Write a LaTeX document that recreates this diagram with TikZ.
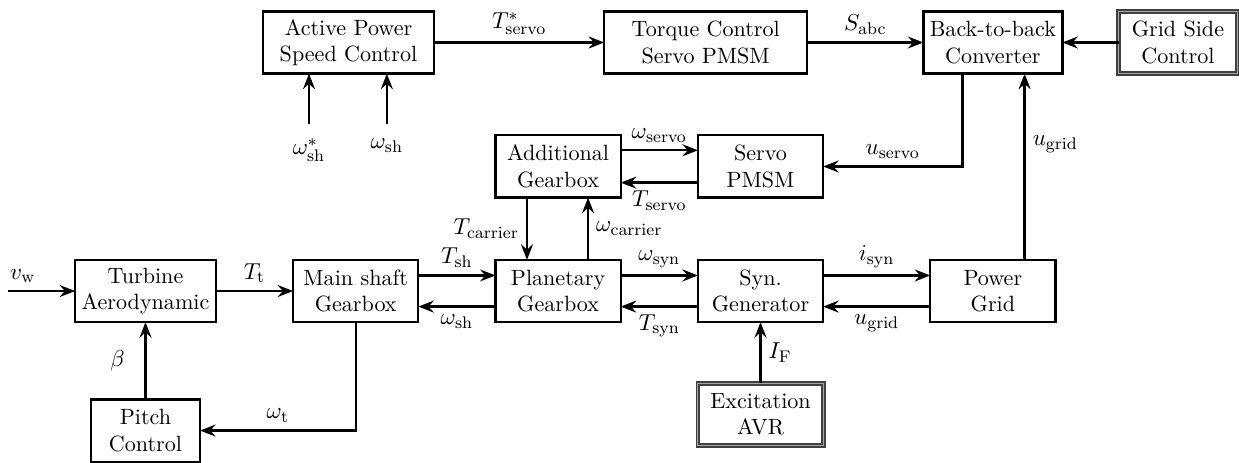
\documentclass[tikz,border=0pt]{standalone}
\usepackage{tikz}
\usepackage{amsmath}
\usetikzlibrary{arrows.meta, positioning, calc}

\begin{document}
\begin{tikzpicture}[
        node distance=1.29cm,
        font=\fontsize{11}{13}\selectfont,
        box/.style={rectangle, draw=black, fill=white, line width=1.1pt, align=center, minimum width=2.09cm, minimum height=1.04cm, inner sep=2pt, outer sep=0pt, font=\fontsize{10.5}{12.6}\selectfont},
        dbox/.style={box, draw=black!75, line width=0.9pt, double=black!35, double distance=0.5pt},
        arrow/.style={-{Stealth[length=2.6mm, width=2mm, inset=0.9mm]}, line width=1.1pt}
    ]
    \useasboundingbox (0,0) rectangle (20.69,7.72);

    % drive train
    \node[box, minimum width=2.35cm] (turbine) at (2.43,2.86) {Turbine\\Aerodynamic};
    \node[box, right=of turbine] (mainshaft) {Main shaft\\Gearbox};
    \node[box, right=of mainshaft] (planetary) {Planetary\\Gearbox};
    \node[box, right=of planetary] (syngen) {Syn.\\Generator};
    \node[box, right=1.79cm of syngen] (grid) {Power\\Grid};
    \node[box, above=1.04cm of planetary] (addgear) {Additional\\Gearbox};
    \node[box, above=1.04cm of syngen] (servo) {Servo\\PMSM};
    \node[dbox, below=1.02cm of syngen] (avr) {Excitation\\AVR};
    \node[box, minimum width=1.82cm, below=of turbine] (pitch) {Pitch\\Control};

    % control row
    \node[box, minimum width=2.32cm, above=3.11cm of grid] (b2b) {Back-to-back\\Converter};
    \node[box, minimum width=3.39cm, left=1.94cm of b2b] (torque) {Torque Control\\Servo PMSM};
    \node[box, minimum width=2.86cm, left=2.84cm of torque] (active) {Active Power\\Speed Control};
    \node[dbox, minimum width=1.98cm, right=0.94cm of b2b] (gridside) {Grid Side\\Control};

    \coordinate (wref) at ([xshift=-0.66cm, yshift=-0.84cm]active.south);
    \coordinate (wmeas) at ([xshift=0.64cm, yshift=-0.84cm]active.south);
    \coordinate (vw) at ([xshift=-1.12cm]turbine.west);

    \draw[arrow] (active) -- node[above] {$T^*_{\mathrm{servo}}$} (torque);
    \draw[arrow] (torque) -- node[above] {$S_{\mathrm{abc}}$} (b2b);
    \draw[arrow] (gridside) -- (b2b);
    \draw[arrow] (wref) node[below=3pt] {$\omega^*_{\mathrm{sh}}$} -- (wref |- active.south);
    \draw[arrow] (wmeas) node[below=3pt] {$\omega_{\mathrm{sh}}$} -- (wmeas |- active.south);

    \draw[arrow] ([xshift=-0.51cm]b2b.south) |- node[pos=0.75, above] {$u_{\mathrm{servo}}$} (servo.east);
    \draw[arrow] ([xshift=0.53cm]grid.north) -- node[pos=0.62, right] {$u_{\mathrm{grid}}$} ([xshift=0.53cm]b2b.south);

    \draw[arrow] ([yshift=0.27cm]addgear.east) -- node[above] {$\omega_{\mathrm{servo}}$} ([yshift=0.27cm]servo.west);
    \draw[arrow] ([yshift=-0.27cm]servo.west) -- node[below] {$T_{\mathrm{servo}}$} ([yshift=-0.27cm]addgear.east);
    \draw[arrow] ([xshift=-0.52cm]addgear.south) -- node[left] {$T_{\mathrm{carrier}}$} ([xshift=-0.52cm]planetary.north);
    \draw[arrow] ([xshift=0.5cm]planetary.north) -- node[right] {$\omega_{\mathrm{carrier}}$} ([xshift=0.5cm]addgear.south);

    \draw[arrow] (vw) -- node[pos=0.22, above] {$v_{\mathrm{w}}$} (turbine);
    \draw[arrow] (turbine) -- node[above] {$T_{\mathrm{t}}$} (mainshaft);
    \draw[arrow] ([yshift=0.26cm]mainshaft.east) -- node[above] {$T_{\mathrm{sh}}$} ([yshift=0.26cm]planetary.west);
    \draw[arrow] ([yshift=-0.26cm]planetary.west) -- node[below] {$\omega_{\mathrm{sh}}$} ([yshift=-0.26cm]mainshaft.east);
    \draw[arrow] ([yshift=0.26cm]planetary.east) -- node[above] {$\omega_{\mathrm{syn}}$} ([yshift=0.26cm]syngen.west);
    \draw[arrow] ([yshift=-0.26cm]syngen.west) -- node[below] {$T_{\mathrm{syn}}$} ([yshift=-0.26cm]planetary.east);
    \draw[arrow] ([yshift=0.26cm]syngen.east) -- node[above] {$i_{\mathrm{syn}}$} ([yshift=0.26cm]grid.west);
    \draw[arrow] ([yshift=-0.26cm]grid.west) -- node[below] {$u_{\mathrm{grid}}$} ([yshift=-0.26cm]syngen.east);

    \draw[arrow] (pitch) -- node[left=6pt] {$\beta$} (turbine);
    \draw[arrow] (mainshaft.south) |- node[pos=0.75, above] {$\omega_{\mathrm{t}}$} (pitch.east);
    \draw[arrow] (avr) -- node[right] {$I_{\mathrm{F}}$} (syngen);

\end{tikzpicture}
\end{document}
